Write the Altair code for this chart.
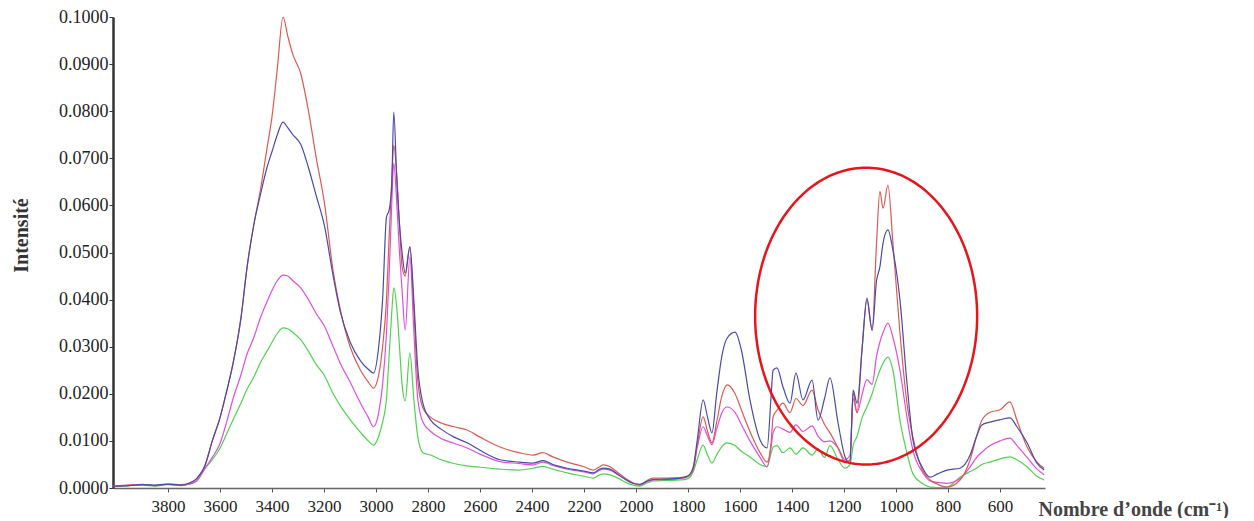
import altair as alt
import pandas as pd
import numpy as np

# ---------------- data ----------------
wavenumber = [4012, 3950, 3900, 3850, 3800, 3750, 3720, 3690, 3660, 3630, 3600, 3575, 3550, 3520,
              3496, 3470, 3446, 3420, 3400, 3380, 3358, 3340, 3320, 3290, 3260, 3230, 3200, 3165,
              3138, 3100, 3060, 3030, 3010, 2990, 2975, 2960, 2950, 2940, 2932, 2920, 2910, 2900,
              2888, 2870, 2855, 2840, 2820, 2790, 2750, 2700, 2650, 2600, 2523, 2450, 2396, 2358,
              2320, 2265, 2200, 2165, 2140, 2127, 2100, 2073, 2040, 2012, 1985, 1960, 1935, 1880,
              1830, 1800, 1780, 1765, 1742, 1725, 1708, 1690, 1670, 1650, 1619, 1595, 1562, 1523,
              1496, 1480, 1473, 1458, 1435, 1408, 1385, 1358, 1323, 1300, 1275, 1254, 1223, 1196,
              1177, 1165, 1150, 1130, 1112, 1092, 1075, 1062, 1050, 1031, 1012, 985, 958, 935,
              900, 869, 840, 804, 754, 715, 690, 670, 638, 600, 562, 535, 496, 458, 430]

red = [.0004, .0006, .0008, .0005, .0009, .0007, .0010, .0020, .0045, .0100, .0150, .0205, .0265, .0360,
       .0470, .0560, .0630, .0720, .0790, .0890, .1000, .0960, .0920, .0880, .0800, .0700, .0610, .0460,
       .0380, .0300, .0250, .0225, .0212, .0240, .0300, .0400, .0530, .0650, .0728, .0660, .0560, .0470,
       .0450, .0512, .0380, .0230, .0170, .0150, .0138, .0130, .0123, .0108, .0087, .0075, .0070, .0075,
       .0066, .0055, .0045, .0038, .0045, .0049, .0045, .0034, .0020, .0011, .0006, .0015, .0021, .0021,
       .0022, .0025, .0040, .0090, .0151, .0120, .0096, .0140, .0195, .0219, .0200, .0166, .0120, .0075,
       .0055, .0100, .0151, .0165, .0180, .0160, .0190, .0175, .0208, .0166, .0135, .0117, .0085, .0055,
       .0060, .0202, .0160, .0300, .0400, .0335, .0520, .0630, .0594, .0643, .0520, .0330, .0180, .0108,
       .0040, .0017, .0008, .0002, .0017, .0060, .0110, .0144, .0161, .0166, .0183, .0144, .0087, .0055, .0042]

blue = [.0004, .0005, .0007, .0006, .0008, .0006, .0010, .0020, .0045, .0100, .0150, .0205, .0265, .0360,
        .0470, .0560, .0620, .0680, .0715, .0750, .0777, .0765, .0750, .0730, .0680, .0620, .0560, .0450,
        .0375, .0310, .0270, .0252, .0244, .0300, .0400, .0575, .0590, .0640, .0798, .0650, .0560, .0500,
        .0456, .0512, .0400, .0257, .0180, .0144, .0125, .0108, .0096, .0080, .0060, .0055, .0053, .0058,
        .0050, .0042, .0036, .0032, .0040, .0042, .0040, .0030, .0018, .0010, .0008, .0014, .0018, .0019,
        .0021, .0026, .0045, .0100, .0187, .0150, .0117, .0200, .0280, .0318, .0331, .0293, .0187, .0102,
        .0085, .0200, .0250, .0255, .0215, .0180, .0244, .0187, .0229, .0144, .0190, .0234, .0138, .0066,
        .0053, .0208, .0180, .0300, .0403, .0335, .0440, .0470, .0520, .0548, .0505, .0400, .0223, .0102,
        .0045, .0023, .0030, .0038, .0042, .0070, .0110, .0134, .0140, .0145, .0149, .0130, .0096, .0053, .0038]

magenta = [.0004, .0006, .0007, .0005, .0008, .0006, .0008, .0015, .0040, .0065, .0095, .0140, .0190, .0240,
           .0285, .0320, .0360, .0395, .0420, .0440, .0452, .0450, .0440, .0425, .0400, .0370, .0345, .0300,
           .0265, .0225, .0180, .0150, .0130, .0160, .0220, .0330, .0450, .0600, .0690, .0600, .0500, .0420,
           .0335, .0490, .0335, .0190, .0140, .0120, .0105, .0095, .0085, .0072, .0056, .0052, .0049, .0055,
           .0048, .0040, .0034, .0030, .0038, .0040, .0038, .0029, .0018, .0010, .0007, .0013, .0017, .0018,
           .0020, .0024, .0040, .0085, .0130, .0110, .0092, .0125, .0160, .0172, .0160, .0135, .0100, .0065,
           .0045, .0090, .0117, .0130, .0125, .0118, .0134, .0120, .0132, .0110, .0098, .0100, .0085, .0060,
           .0070, .0190, .0160, .0200, .0230, .0220, .0280, .0310, .0330, .0350, .0320, .0250, .0150, .0080,
           .0035, .0015, .0012, .0010, .0020, .0045, .0065, .0076, .0090, .0100, .0106, .0090, .0065, .0040, .0028]

green = [.0003, .0005, .0006, .0004, .0007, .0005, .0008, .0015, .0040, .0060, .0085, .0115, .0145, .0180,
         .0210, .0236, .0265, .0290, .0310, .0328, .0340, .0338, .0330, .0315, .0290, .0262, .0240, .0200,
         .0175, .0145, .0118, .0100, .0091, .0110, .0140, .0190, .0280, .0370, .0425, .0380, .0300, .0220,
         .0185, .0287, .0190, .0110, .0075, .0070, .0060, .0052, .0047, .0044, .0040, .0038, .0042, .0046,
         .0040, .0032, .0025, .0021, .0028, .0030, .0028, .0022, .0012, .0006, .0004, .0010, .0015, .0016,
         .0017, .0020, .0035, .0060, .0091, .0070, .0053, .0070, .0088, .0096, .0090, .0078, .0066, .0050,
         .0045, .0075, .0087, .0090, .0075, .0085, .0072, .0085, .0070, .0083, .0065, .0090, .0060, .0042,
         .0050, .0090, .0110, .0150, .0172, .0200, .0230, .0250, .0265, .0278, .0250, .0144, .0074, .0030,
         .0010, .0002, .0001, .0002, .0023, .0035, .0042, .0050, .0055, .0062, .0066, .0060, .0045, .0025, .0017]

series_names = ["Échantillon 4", "Échantillon 3", "Échantillon 1", "Échantillon 2"]
series_values = [green, magenta, red, blue]
series_colors = ["#4fd24f", "#de4fde", "#dc5a52", "#4a4aaa"]

x_ticks = [3800, 3600, 3400, 3200, 3000, 2800, 2600, 2400, 2200, 2000, 1800, 1600, 1400, 1200, 1000, 800, 600]
y_ticks = [0.0, 0.01, 0.02, 0.03, 0.04, 0.05, 0.06, 0.07, 0.08, 0.09, 0.10]
x_domain = [427, 4012]
y_domain = [0.0, 0.1]

# red highlight ellipse (data units)
ellipse_center_w = 1115
ellipse_center_i = 0.0365
ellipse_rw = 427
ellipse_ri = 0.0315

# ---------------- build tables ----------------
rows = []
for name, vals in zip(series_names, series_values):
    for w, v in zip(wavenumber, vals):
        rows.append({"w": w, "i": v, "s": name})
df = pd.DataFrame(rows)

t = np.linspace(0, 2 * np.pi, 241)
ell = pd.DataFrame({
    "w": ellipse_center_w + ellipse_rw * np.cos(t),
    "i": ellipse_center_i + ellipse_ri * np.sin(t),
    "k": np.arange(len(t)),
})

FONT = "Liberation Serif"

xscale = alt.Scale(domain=x_domain, reverse=True, nice=False, zero=False)
yscale = alt.Scale(domain=y_domain, nice=False, zero=False)

lines = alt.Chart(df).mark_line(strokeWidth=1.2, interpolate="monotone", clip=True).encode(
    x=alt.X("w:Q", scale=xscale,
            axis=alt.Axis(values=x_ticks, format="d", title="Nombre d\u2019onde (cm\u207b\u00b9)",
                          titleX=925, titleY=21, titleAlign="left", titleBaseline="middle",
                          titleFont=FONT, titleFontSize=20, titleFontWeight="bold", titleColor="#444",
                          labelFont=FONT, labelFontSize=17, labelColor="#222", labelPadding=6,
                          tickSize=4, tickColor="#555", domainColor="#666", domainWidth=1.5,
                          labelFlush=False, grid=False)),
    y=alt.Y("i:Q", scale=yscale,
            axis=alt.Axis(values=y_ticks, format=".4f", title="Intensit\u00e9",
                          titleX=-92, titleY=218, titleAngle=270, titleAlign="center",
                          titleBaseline="middle", titleFont=FONT, titleFontSize=20,
                          titleFontWeight="bold", titleColor="#333",
                          labelFont=FONT, labelFontSize=18, labelColor="#222", labelPadding=1,
                          tickSize=4, tickColor="#333", domainColor="#333", domainWidth=2.5,
                          labelFlush=False, grid=False)),
    color=alt.Color("s:N", scale=alt.Scale(domain=series_names, range=series_colors), legend=None),
    detail="s:N",
)

ellipse = alt.Chart(ell).mark_line(color="#e8141c", strokeWidth=2.5).encode(
    x=alt.X("w:Q", scale=xscale),
    y=alt.Y("i:Q", scale=yscale),
    order="k:Q",
)

chart = alt.layer(lines, ellipse).properties(
    width=932, height=471,
    background="white",
    autosize=alt.AutoSizeParams(type="none"),
    padding={"left": 105, "top": 9, "right": 201, "bottom": 30},
).configure_view(stroke=None)

chart.save("out.html", embed_options={"renderer": "svg", "actions": False})
